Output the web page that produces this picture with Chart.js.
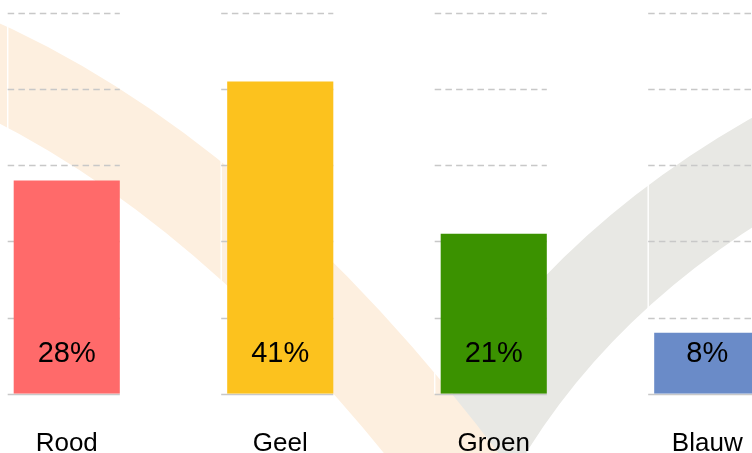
<!DOCTYPE html>
<html>
<head>
<meta charset="utf-8">
<script src="https://cdn.jsdelivr.net/npm/chart.js@4.4.1/dist/chart.umd.min.js"></script>
<style>
  html, body { margin: 0; padding: 0; background: #fff; }
  #wrap { position: relative; width: 752px; height: 453px; overflow: hidden; }
  #wrap canvas { position: absolute; left: -40px; top: 0; }
</style>
</head>
<body>
<div id="wrap"><canvas id="grafiek" width="860" height="495"></canvas></div>
<script>
// Gegevens
const categorieen = ['Rood', 'Geel', 'Groen', 'Blauw'];
const percentages = [28, 41, 21, 8];
const kleuren = ['#ff6a6a', '#fcc21e', '#3b9200', '#6a8bc8'];
const yTicks = [0, 10, 20, 30, 40, 50];

const lettertype = '"Liberation Sans", Arial, Helvetica, sans-serif';

// Watermerk (vinkje) op de achtergrond
const watermerk = {
    id: 'watermerk',
    beforeDraw(chart) {
        const ctx = chart.ctx;
        ctx.save();
        ctx.translate(40, 0);
        ctx.lineCap = 'butt';
        // grijze streep
        ctx.lineWidth = 94;
        ctx.strokeStyle = '#e8e8e4';
        ctx.beginPath();
        ctx.moveTo(458, 478);
        ctx.quadraticCurveTo(565, 270, 800, 145);
        ctx.stroke();
        // oranje streep
        ctx.lineWidth = 90;
        ctx.strokeStyle = '#fdefdf';
        ctx.beginPath();
        ctx.moveTo(-40, 55);
        ctx.quadraticCurveTo(230, 170, 470, 490);
        ctx.stroke();
        ctx.restore();
    }
};

// Rasterlijnen per kolom
const raster = {
    id: 'raster',
    beforeDatasetsDraw(chart) {
        const ctx = chart.ctx;
        const y = chart.scales.y;
        const bars = chart.getDatasetMeta(0).data;
        const top = y.getPixelForValue(yTicks[yTicks.length - 1]);
        const basis = y.getPixelForValue(0);
        ctx.save();
        bars.forEach(bar => {
            const x0 = bar.x - bar.width / 2 - 6;
            const x1 = bar.x + bar.width / 2;
            // witte as
            ctx.strokeStyle = 'rgba(255,255,255,0.95)';
            ctx.lineWidth = 1.5;
            ctx.setLineDash([]);
            ctx.beginPath();
            ctx.moveTo(x0, top);
            ctx.lineTo(x0, basis);
            ctx.stroke();
            yTicks.forEach(v => {
                const py = Math.round(y.getPixelForValue(v)) + 0.5;
                ctx.strokeStyle = '#c8c8c8';
                ctx.lineWidth = 1.3;
                ctx.setLineDash(v === 0 ? [] : [6.5, 4.2]);
                ctx.beginPath();
                ctx.moveTo(x0, py);
                ctx.lineTo(x1, py);
                ctx.stroke();
            });
        });
        ctx.restore();
    }
};

// Percentages in de staven
const waarden = {
    id: 'waarden',
    afterDatasetsDraw(chart) {
        const ctx = chart.ctx;
        const basis = chart.scales.y.getPixelForValue(0);
        ctx.save();
        ctx.fillStyle = '#000';
        ctx.font = '29px ' + lettertype;
        ctx.textAlign = 'center';
        ctx.textBaseline = 'alphabetic';
        chart.getDatasetMeta(0).data.forEach((bar, i) => {
            ctx.fillText(percentages[i] + '%', bar.x, basis - 32);
        });
        ctx.restore();
    }
};

new Chart(document.getElementById('grafiek'), {
    type: 'bar',
    data: {
        labels: categorieen,
        datasets: [{
            data: percentages,
            backgroundColor: kleuren,
            borderWidth: 0,
            categoryPercentage: 1,
            barPercentage: 0.497
        }]
    },
    options: {
        responsive: false,
        animation: false,
        layout: { padding: { top: 13, right: 6, left: 0, bottom: 2 } },
        plugins: {
            legend: { display: false },
            tooltip: { enabled: false }
        },
        scales: {
            x: {
                grid: { display: false, drawTicks: false },
                border: { display: false },
                ticks: {
                    color: '#000',
                    padding: 34,
                    font: { size: 26, family: lettertype }
                }
            },
            y: {
                display: false,
                min: 0,
                max: 50,
                ticks: { stepSize: 10 }
            }
        }
    },
    plugins: [watermerk, raster, waarden]
});
</script>
</body>
</html>
